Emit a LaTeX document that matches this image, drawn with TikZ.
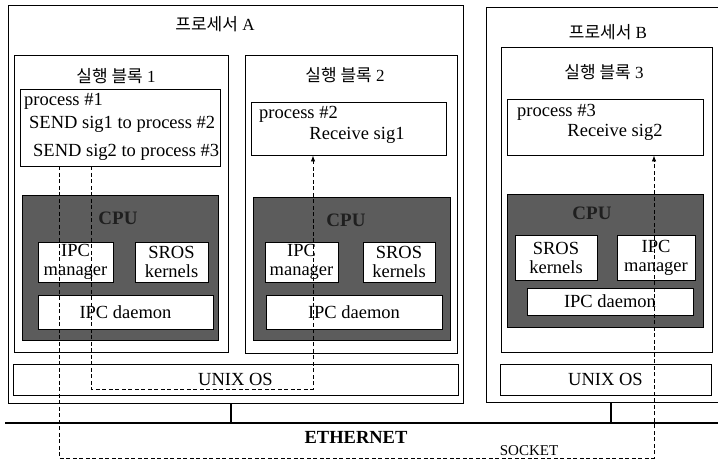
\documentclass[tikz,border=0pt]{standalone}
\usepackage{fontspec}
\setmainfont{Liberation Serif}
\newfontfamily\kr{Noto Sans CJK KR}
\usepackage{tikz}
\usetikzlibrary{arrows.meta}

\begin{document}
\begin{tikzpicture}[x=1pt, y=-1pt, >={Latex[length=6pt,width=4.5pt]},
  sz/.style 2 args={minimum width=#1pt, minimum height=#2pt},
  box/.style={draw, line width=0.9pt, inner sep=0pt},
  cpubox/.style={box, fill=black!64},
  wbox/.style={box, fill=white, align=center, font=\fontsize{18.5}{19}\selectfont},
  txt/.style={inner sep=0pt, font=\fontsize{18.5}{20}\selectfont},
  title/.style={inner sep=0pt, font=\fontsize{17}{18}\selectfont},
  cpulabel/.style={inner sep=0pt, text=black!88, font=\fontsize{19}{20}\selectfont\bfseries},
  sig/.style={->, dash pattern=on 4pt off 2.5pt, line width=0.8pt}]

\useasboundingbox (0,0) rectangle (718,461);

% processors
\node[box, sz={455}{398}] (procA) at (235.5,204) {};
\node[box, sz={244}{395}] (procB) at (608,204.5) {};
\node[title] (titleA) at (215,24) {{\kr 프로세서} A};
\node[title] (titleB) at (608,32) {{\kr 프로세서} B};

% execution blocks
\node[box, sz={214}{297}] (execOne) at (121,203.5) {};
\node[box, sz={212}{298}] (execTwo) at (351,204) {};
\node[box, sz={211}{305}] (execThree) at (606.5,199.5) {};
\node[title] (titleOne) at (116,76) {{\kr 실행 블록} 1};
\node[title] (titleTwo) at (345,75) {{\kr 실행 블록} 2};
\node[title] (titleThree) at (604,72) {{\kr 실행 블록} 3};

% processes
\node[box, sz={200}{77}] (pOne) at (120,127.5) {};
\node[txt, anchor=west] (pOneName) at (24,101) {process \#1};
\node[txt, anchor=west] (sendOne) at (29,124) {SEND sig1 to process \#2};
\node[txt, anchor=west] (sendTwo) at (33,152) {SEND sig2 to process \#3};

\node[box, sz={195}{53}] (pTwo) at (348.5,128.5) {};
\node[txt, anchor=west] (pTwoName) at (259,114) {process \#2};
\node[txt] (recvOne) at (357,135) {Receive sig1};

\node[box, sz={196}{56}] (pThree) at (605,127) {};
\node[txt, anchor=west] (pThreeName) at (517,112) {process \#3};
\node[txt] (recvTwo) at (615,132) {Receive sig2};

% CPUs
\node[cpubox, sz={196}{145}] (cpuOne) at (120,267.5) {};
\node[cpulabel] (cpuOneLbl) at (118,218) {CPU};
\node[wbox, sz={75}{40}] (mgrOne) at (75.5,262) {IPC\\manager};
\node[wbox, sz={73}{40}] (srosOne) at (171.5,262) {SROS\\kernels};
\node[wbox, sz={175}{34}] (daemonOne) at (125.5,312) {IPC daemon};

\node[cpubox, sz={197}{143}] (cpuTwo) at (351.5,268.5) {};
\node[cpulabel] (cpuTwoLbl) at (346,220) {CPU};
\node[wbox, sz={73}{40}] (mgrTwo) at (301.5,262) {IPC\\manager};
\node[wbox, sz={72}{40}] (srosTwo) at (399,262) {SROS\\kernels};
\node[wbox, sz={176}{34}] (daemonTwo) at (354,312) {IPC daemon};

\node[cpubox, sz={196}{133}] (cpuThree) at (605,260.5) {};
\node[cpulabel] (cpuThreeLbl) at (592,213) {CPU};
\node[wbox, sz={82}{45}] (srosThree) at (556,257.5) {SROS\\kernels};
\node[wbox, sz={78}{45}] (mgrThree) at (656,257.5) {IPC\\manager};
\node[wbox, sz={166}{27}] (daemonThree) at (610,301.5) {IPC daemon};

% operating systems
\node[wbox, sz={445}{31}] (unixA) at (235.5,379.5) {UNIX OS};
\node[wbox, sz={211}{31}] (unixB) at (605.5,379.5) {UNIX OS};

% network
\coordinate (ethL) at (5,423);
\coordinate (ethR) at (718,423);
\coordinate (tapA) at (231,423);
\coordinate (tapB) at (611,423);
\draw[line width=1.3pt] (ethL) -- (ethR);
\draw[line width=1.3pt] (procA.south -| tapA) -- (tapA);
\draw[line width=1.3pt] (procB.south -| tapB) -- (tapB);
\node[inner sep=0pt, font=\fontsize{18.5}{20}\selectfont\bfseries] (ether) at (356,437) {ETHERNET};
\node[inner sep=0pt, font=\fontsize{15}{16}\selectfont] (socket) at (529,451) {SOCKET};

% signals
\coordinate (bendOne) at (91,389);
\coordinate (bendTwo) at (313,389);
\coordinate (bendThree) at (59,458);
\coordinate (bendFour) at (654,458);
\draw[sig] (pOne.south -| bendOne) -- (bendOne) -- (bendTwo) -- (pTwo.south -| bendTwo);
\draw[sig] (pOne.south -| bendThree) -- (bendThree) -- (bendFour) -- (pThree.south -| bendFour);

\end{tikzpicture}
\end{document}
